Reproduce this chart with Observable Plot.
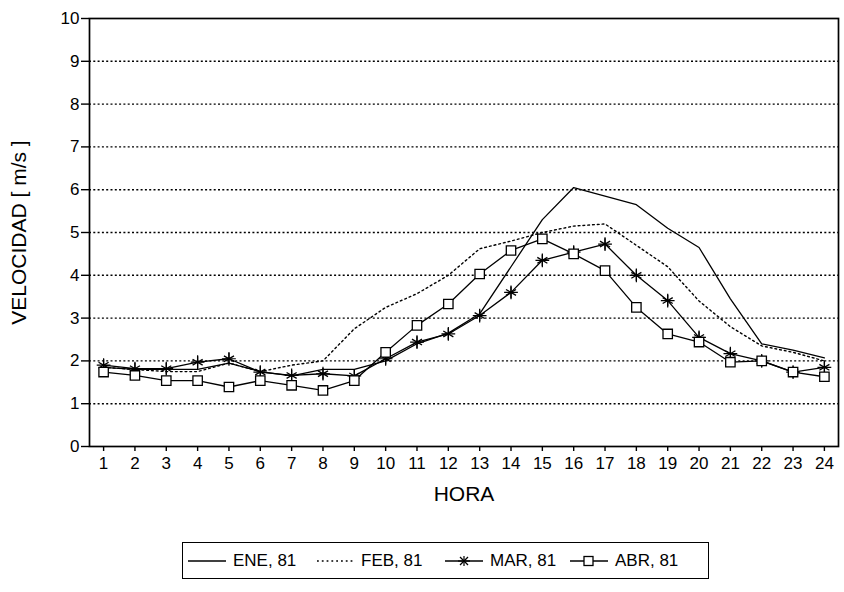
<!DOCTYPE html>
<html><head><meta charset="utf-8">
<script src="https://cdn.jsdelivr.net/npm/d3@7"></script>
<script src="https://cdn.jsdelivr.net/npm/@observablehq/plot@0.6"></script>
<style>
body{margin:0;background:#fff;font-family:"Liberation Sans",Arial,sans-serif;color:#000;}
#chart{position:absolute;left:0;top:0;}
#legend{position:absolute;left:182px;top:542px;width:525px;height:35px;border:1.5px solid #000;font-size:17px;}
#legend .it{position:absolute;top:0;height:35px;display:flex;align-items:center;white-space:nowrap;}
#legend svg{display:block;margin-right:7px;}
</style></head><body>
<div id="chart"></div>
<div id="legend"></div>
<script>
const hours = [1,2,3,4,5,6,7,8,9,10,11,12,13,14,15,16,17,18,19,20,21,22,23,24];
const yTicks = [0,1,2,3,4,5,6,7,8,9,10];
const gridLevels = [1,2,3,4,5,6,7,8,9];
const seriesNames = ["ENE, 81","FEB, 81","MAR, 81","ABR, 81"];
const ene = [1.85,1.8,1.8,1.8,1.95,1.75,1.65,1.8,1.8,2.0,2.4,2.65,3.1,4.2,5.3,6.05,5.85,5.65,5.1,4.65,3.45,2.4,2.25,2.07];
const feb = [1.85,1.8,1.75,1.75,1.95,1.75,1.9,2.0,2.75,3.25,3.57,4.0,4.62,4.8,5.0,5.15,5.2,4.7,4.2,3.4,2.8,2.35,2.2,2.0];
const mar = [1.9,1.82,1.82,1.97,2.05,1.74,1.66,1.7,1.65,2.05,2.44,2.63,3.06,3.6,4.35,4.54,4.73,4.0,3.41,2.55,2.17,2.0,1.74,1.85];
const abr = [1.74,1.66,1.54,1.54,1.39,1.54,1.43,1.31,1.54,2.2,2.83,3.33,4.03,4.58,4.85,4.5,4.11,3.25,2.63,2.44,1.97,2.0,1.74,1.63];

const toRows = (vals, name) => hours.map((h, i) => ({hora: h, v: vals[i], s: name}));
const rEne = toRows(ene, seriesNames[0]);
const rFeb = toRows(feb, seriesNames[1]);
const rMar = toRows(mar, seriesNames[2]);
const rAbr = toRows(abr, seriesNames[3]);

const plot = Plot.plot({
  width: 844, height: 510,
  marginLeft: 89, marginRight: 6, marginTop: 18, marginBottom: 64,
  style: {fontFamily: "'Liberation Sans', Arial, sans-serif", fontSize: "17px", color: "#000", background: "#fff"},
  x: {domain: [0.55, 24.45], label: null},
  y: {domain: [0, 10], label: null},
  marks: [
    Plot.ruleY(gridLevels, {stroke: "#000", strokeWidth: 1.4, strokeDasharray: "2,2.3"}),
    Plot.frame({stroke: "#000", strokeWidth: 1.7}),
    Plot.axisY(yTicks, {tickSize: 8, tickPadding: 2, strokeWidth: 1.4, fontSize: 17, label: null}),
    Plot.axisY({ticks: [], label: "VELOCIDAD [ m/s ]", labelAnchor: "center", labelOffset: 78, labelArrow: "none", fontSize: 21}),
    Plot.axisX(hours, {tickSize: 5, tickPadding: 5, strokeWidth: 1.4, fontSize: 17, label: null}),
    Plot.axisX({ticks: [], label: "HORA", labelAnchor: "center", labelOffset: 54, labelArrow: "none", fontSize: 21}),
    Plot.line(rEne, {x: "hora", y: "v", stroke: "#000", strokeWidth: 1.3}),
    Plot.line(rFeb, {x: "hora", y: "v", stroke: "#000", strokeWidth: 1.4, strokeDasharray: "1.8,3"}),
    Plot.line(rMar, {x: "hora", y: "v", stroke: "#000", strokeWidth: 1.3}),
    Plot.line(rAbr, {x: "hora", y: "v", stroke: "#000", strokeWidth: 1.3}),
    Plot.dot(rMar, {x: "hora", y: "v", symbol: "asterisk", r: 5.5, stroke: "#000", strokeWidth: 1.3}),
    Plot.dot(rMar, {x: "hora", y: "v", symbol: "plus", r: 4.5, stroke: "#000", strokeWidth: 1.2}),
    Plot.dot(rAbr, {x: "hora", y: "v", symbol: "square", r: 5.3, fill: "#fff", stroke: "#000", strokeWidth: 1.3})
  ]
});
document.getElementById("chart").appendChild(plot);

// legend
const lg = document.getElementById("legend");
const lefts = [5, 134, 262, 387];
const samples = [
  `<svg width="38" height="12"><line x1="0" y1="6" x2="38" y2="6" stroke="#000" stroke-width="1.3"/></svg>`,
  `<svg width="37" height="12"><line x1="0" y1="6" x2="37" y2="6" stroke="#000" stroke-width="1.4" stroke-dasharray="1.8,3"/></svg>`,
  `<svg width="38" height="12"><line x1="0" y1="6" x2="38" y2="6" stroke="#000" stroke-width="1.3"/><g stroke="#000" stroke-width="1.2"><line x1="13" y1="6" x2="25" y2="6"/><line x1="19" y1="1" x2="19" y2="11"/><line x1="15" y1="2" x2="23" y2="10"/><line x1="15" y1="10" x2="23" y2="2"/></g></svg>`,
  `<svg width="38" height="12"><line x1="0" y1="6" x2="38" y2="6" stroke="#000" stroke-width="1.3"/><rect x="14" y="1.5" width="9" height="9" fill="#fff" stroke="#000" stroke-width="1.3"/></svg>`
];
seriesNames.forEach((n, i) => {
  const d = document.createElement("div");
  d.className = "it";
  d.style.left = lefts[i] + "px";
  d.innerHTML = samples[i] + `<span>${n}</span>`;
  lg.appendChild(d);
});
</script>
</body></html>
